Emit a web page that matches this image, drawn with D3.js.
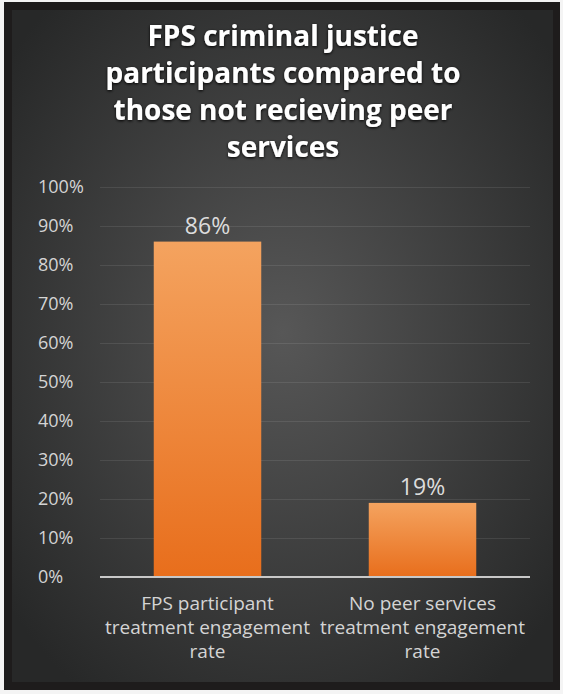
<!DOCTYPE html>
<html>
<head>
<meta charset="utf-8">
<script src="https://cdn.jsdelivr.net/npm/d3@7"></script>
<style>
  html, body { margin: 0; padding: 0; background: #f4f4f4; }
  svg { display: block; }
  text { font-family: "Open Sans", "DejaVu Sans", sans-serif; }
</style>
</head>
<body>
<div id="chart"></div>
<script>
// chart data
var categories = [
  ["FPS participant", "treatment engagement", "rate"],
  ["No peer services", "treatment engagement", "rate"]
];
var values = [0.86, 0.19];
var tickValues = [0, 0.1, 0.2, 0.3, 0.4, 0.5, 0.6, 0.7, 0.8, 0.9, 1.0];
var titleLines = [
  "FPS criminal justice",
  "participants compared to",
  "those not recieving peer",
  "services"
];

var svgWidth = 563;
var svgHeight = 694;

var svg = d3.select("#chart")
  .append("svg")
  .attr("width", svgWidth)
  .attr("height", svgHeight);

var defs = svg.append("defs");

// background radial gradient
var bg = defs.append("radialGradient")
  .attr("id", "bgGrad")
  .attr("cx", "50%").attr("cy", "48%").attr("r", "65%");
bg.append("stop").attr("offset", "0%").attr("stop-color", "#575757");
bg.append("stop").attr("offset", "100%").attr("stop-color", "#272828");

// bar gradient
var barGrad = defs.append("linearGradient")
  .attr("id", "barGrad")
  .attr("x1", 0).attr("y1", 0).attr("x2", 0).attr("y2", 1);
barGrad.append("stop").attr("offset", "0%").attr("stop-color", "#f4a35f");
barGrad.append("stop").attr("offset", "100%").attr("stop-color", "#e86e1c");

// title glow
var glow = defs.append("filter").attr("id", "glow")
  .attr("x", "-10%").attr("y", "-30%").attr("width", "120%").attr("height", "160%");
glow.append("feGaussianBlur").attr("in", "SourceAlpha").attr("stdDeviation", 1.5).attr("result", "b");
glow.append("feOffset").attr("in", "b").attr("dx", 0).attr("dy", 1).attr("result", "o");
var fm = glow.append("feMerge");
fm.append("feMergeNode").attr("in", "o");
fm.append("feMergeNode").attr("in", "SourceGraphic");

// frame
svg.append("rect")
  .attr("x", 4).attr("y", 2)
  .attr("width", 556).attr("height", 688)
  .attr("fill", "#1e1c1c");

svg.append("rect")
  .attr("x", 12).attr("y", 10)
  .attr("width", 541).attr("height", 672)
  .attr("fill", "url(#bgGrad)");

// title
svg.append("g")
  .attr("filter", "url(#glow)")
  .selectAll("text")
  .data(titleLines)
  .enter()
  .append("text")
  .attr("x", 283)
  .attr("y", (d, i) => 46 + i * 37)
  .attr("text-anchor", "middle")
  .attr("font-size", 28)
  .attr("font-weight", "bold")
  .attr("fill", "#ffffff")
  .text(d => d);

// plot area
var margin = {top: 187, left: 100};
var width = 430;
var height = 390;

var chartGroup = svg.append("g")
  .attr("transform", `translate(${margin.left}, ${margin.top})`);

var xScale = d3.scaleBand()
  .domain(d3.range(categories.length))
  .range([0, width])
  .paddingInner(0.5)
  .paddingOuter(0.25);

var yScale = d3.scaleLinear()
  .domain([0, 1])
  .range([height, 0]);

// gridlines
var yGrid = d3.axisLeft(yScale)
  .tickValues(tickValues)
  .tickSize(-width)
  .tickFormat("");

chartGroup.append("g")
  .call(yGrid)
  .call(g => g.select(".domain").remove())
  .call(g => g.selectAll("line")
    .attr("stroke", "#ffffff")
    .attr("stroke-opacity", 0.09));

// tick labels (left aligned like the original)
chartGroup.append("g")
  .selectAll("text")
  .data(tickValues)
  .enter()
  .append("text")
  .attr("x", 38 - margin.left)
  .attr("y", d => yScale(d))
  .attr("dy", "0.35em")
  .attr("font-size", 18)
  .attr("fill", "#d4d4d4")
  .text(d => d3.format(".0%")(d));

// bars
chartGroup.selectAll(".bar")
  .data(values)
  .enter()
  .append("rect")
  .attr("class", "bar")
  .attr("x", (d, i) => xScale(i))
  .attr("y", d => yScale(d))
  .attr("width", xScale.bandwidth())
  .attr("height", d => height - yScale(d))
  .attr("fill", "url(#barGrad)");

// data labels
chartGroup.selectAll(".val")
  .data(values)
  .enter()
  .append("text")
  .attr("class", "val")
  .attr("x", (d, i) => xScale(i) + xScale.bandwidth() / 2)
  .attr("y", d => yScale(d) - 8)
  .attr("text-anchor", "middle")
  .attr("font-size", 23)
  .attr("fill", "#dcdcdc")
  .text(d => d3.format(".0%")(d));

// x axis line
chartGroup.append("line")
  .attr("x1", 0).attr("x2", width)
  .attr("y1", height).attr("y2", height)
  .attr("stroke", "#c8c8c8")
  .attr("stroke-width", 2);

// category labels
var catGroup = chartGroup.selectAll(".cat")
  .data(categories)
  .enter()
  .append("text")
  .attr("class", "cat")
  .attr("text-anchor", "middle")
  .attr("font-size", 19)
  .attr("fill", "#d4d4d4");

catGroup.selectAll("tspan")
  .data((d, i) => d.map(line => ({line: line, i: i})))
  .enter()
  .append("tspan")
  .attr("x", d => xScale(d.i) + xScale.bandwidth() / 2)
  .attr("y", (d, j) => height + 33 + j * 24)
  .text(d => d.line);
</script>
</body>
</html>
